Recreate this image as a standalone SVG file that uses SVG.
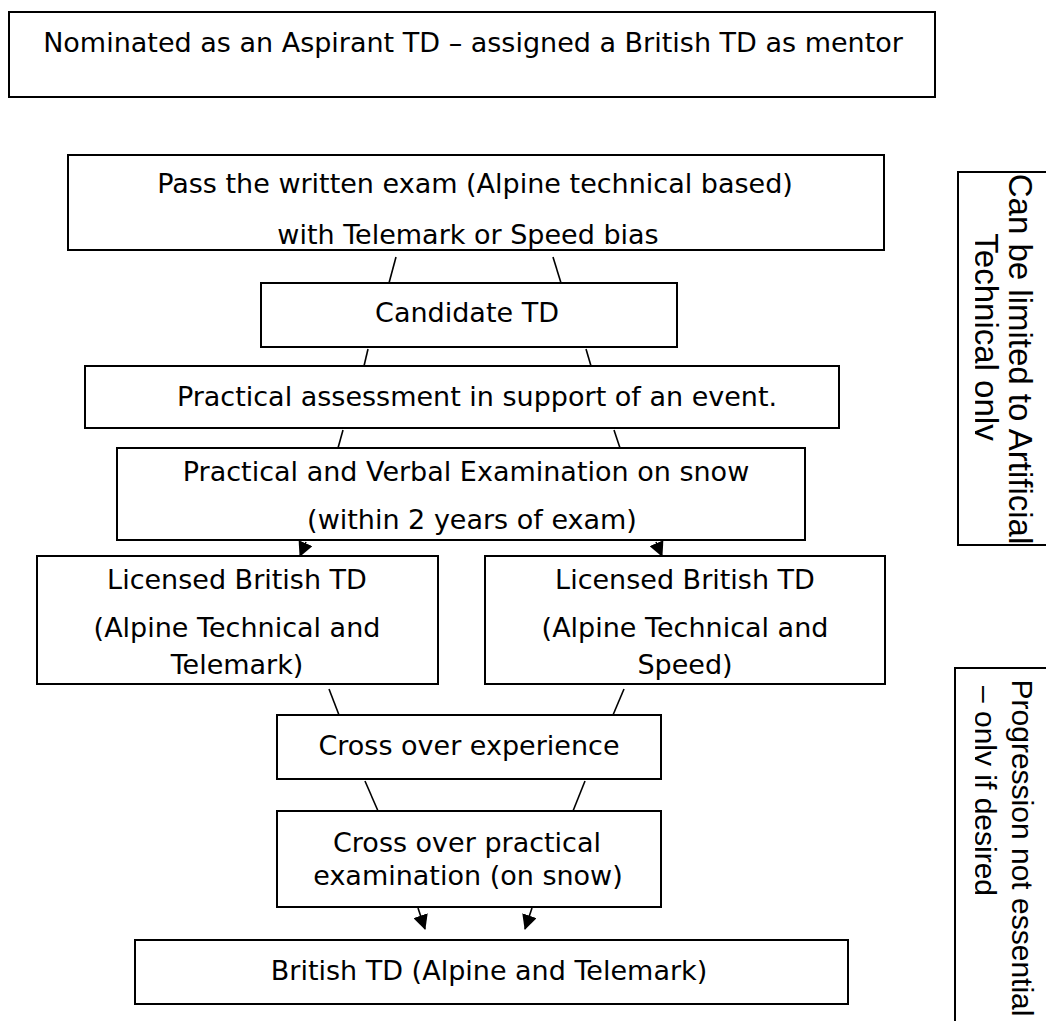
<svg xmlns="http://www.w3.org/2000/svg" width="1046" height="1021" viewBox="0 0 1046 1021">
<style>
  .box { fill: #fff; stroke: #000; stroke-width: 2; }
  .t { font-family: "DejaVu Sans", Verdana, sans-serif; font-size: 27px; fill: #000; text-anchor: middle; }
  .r1 { font-family: "Liberation Sans", Arial, sans-serif; font-size: 33px; fill: #000; text-anchor: middle; }
  .r2 { font-family: "Liberation Sans", Arial, sans-serif; font-size: 30px; fill: #000; text-anchor: middle; }
  .c { stroke: #000; stroke-width: 1.6; fill: none; }
</style>
<defs>
  <marker id="ah" markerUnits="userSpaceOnUse" markerWidth="15" markerHeight="15" viewBox="0 0 15 15" refX="14" refY="7.5" orient="auto">
    <path d="M0,0 L15,7.5 L0,15 Z" fill="#000"/>
  </marker>
  <clipPath id="cPass"><rect x="68" y="155" width="816" height="95"/></clipPath>
  <clipPath id="cPV"><rect x="117" y="448" width="688" height="91"/></clipPath>
  <clipPath id="cLic"><rect x="0" y="556" width="900" height="127"/></clipPath>
  <clipPath id="cR"><rect x="975" y="0" width="80" height="1021"/></clipPath>
</defs>

<g id="n-nominated">
  <rect class="box" x="9" y="12" width="926" height="85"/>
  <text class="t" x="473" y="52">Nominated as an Aspirant TD – assigned a British TD as mentor</text>
</g>

<g id="n-written">
  <rect class="box" x="68" y="155" width="816" height="95"/>
  <g clip-path="url(#cPass)">
    <text class="t" x="475" y="193">Pass the written exam (Alpine technical based)</text>
    <text class="t" x="468" y="244">with Telemark or Speed bias</text>
  </g>
</g>

<g id="n-candidate">
  <rect class="box" x="261" y="283" width="416" height="64"/>
  <text class="t" x="467" y="322">Candidate TD</text>
</g>

<g id="n-practical">
  <rect class="box" x="85" y="366" width="754" height="62"/>
  <text class="t" x="477" y="406">Practical assessment in support of an event.</text>
</g>

<g id="n-verbal">
  <rect class="box" x="117" y="448" width="688" height="92"/>
  <g clip-path="url(#cPV)">
    <text class="t" x="466" y="481">Practical and Verbal Examination on snow</text>
    <text class="t" x="472" y="529">(within 2 years of exam)</text>
  </g>
</g>

<g id="n-lic-telemark">
  <rect class="box" x="37" y="556" width="401" height="128"/>
  <g clip-path="url(#cLic)">
    <text class="t" x="237" y="589">Licensed British TD</text>
    <text class="t" x="237" y="637">(Alpine Technical and</text>
    <text class="t" x="237" y="674">Telemark)</text>
  </g>
</g>

<g id="n-lic-speed">
  <rect class="box" x="485" y="556" width="400" height="128"/>
  <g clip-path="url(#cLic)">
    <text class="t" x="685" y="589">Licensed British TD</text>
    <text class="t" x="685" y="637">(Alpine Technical and</text>
    <text class="t" x="685" y="674">Speed)</text>
  </g>
</g>

<g id="n-crossexp">
  <rect class="box" x="277" y="715" width="384" height="64"/>
  <text class="t" x="469" y="755">Cross over experience</text>
</g>

<g id="n-crossprac">
  <rect class="box" x="277" y="811" width="384" height="96"/>
  <text class="t" x="467" y="852">Cross over practical</text>
  <text class="t" x="468" y="885">examination (on snow)</text>
</g>

<g id="n-final">
  <rect class="box" x="135" y="940" width="713" height="64"/>
  <text class="t" x="489" y="980">British TD (Alpine and Telemark)</text>
</g>

<g id="n-note-artificial">
  <rect class="box" x="958" y="172" width="100" height="373"/>
  <text class="r1" transform="translate(1009,359) rotate(90)">Can be limited to Artificial</text>
  <g clip-path="url(#cR)">
    <text class="r1" transform="translate(975,337) rotate(90)">Technical only</text>
  </g>
</g>

<g id="n-note-progression">
  <rect class="box" x="955" y="668" width="100" height="400"/>
  <text class="r2" transform="translate(1012,848) rotate(90)">Progression not essential</text>
  <g clip-path="url(#cR)">
    <text class="r2" transform="translate(975,791) rotate(90)">– only if desired</text>
  </g>
</g>

<g id="connectors">
  <line class="c" x1="396" y1="257" x2="389" y2="283"/>
  <line class="c" x1="553" y1="257" x2="561" y2="283"/>
  <line class="c" x1="368" y1="349" x2="364" y2="366"/>
  <line class="c" x1="586" y1="349" x2="591" y2="366"/>
  <line class="c" x1="343" y1="430" x2="338" y2="448"/>
  <line class="c" x1="614" y1="430" x2="620" y2="448"/>
  <line class="c" x1="306" y1="542" x2="300" y2="556" marker-end="url(#ah)"/>
  <line class="c" x1="656" y1="542" x2="662" y2="556" marker-end="url(#ah)"/>
  <line class="c" x1="329" y1="689" x2="339" y2="715"/>
  <line class="c" x1="624" y1="689" x2="613" y2="715"/>
  <line class="c" x1="365" y1="781" x2="378" y2="811"/>
  <line class="c" x1="585" y1="781" x2="573" y2="811"/>
  <line class="c" x1="418" y1="908" x2="425" y2="929" marker-end="url(#ah)"/>
  <line class="c" x1="532" y1="908" x2="525" y2="929" marker-end="url(#ah)"/>
</g>
</svg>
